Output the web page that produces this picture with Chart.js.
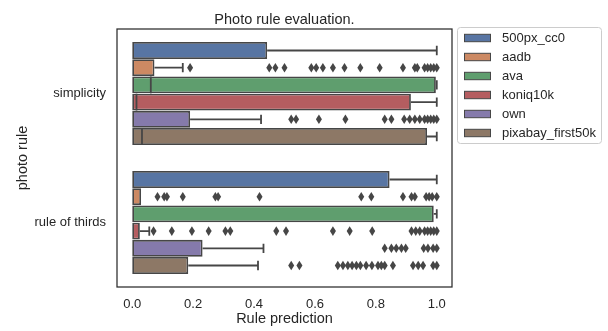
<!DOCTYPE html>
<html>
<head>
<meta charset="utf-8">
<script src="https://cdn.jsdelivr.net/npm/chart.js@4"></script>
<style>
  html, body { margin: 0; padding: 0; background: #ffffff; }
  canvas { display: block; }
</style>
</head>
<body>
<canvas id="c" width="608" height="331"></canvas>
<script>
// ---------------- DATA ----------------
const categories = ['simplicity', 'rule of thirds'];
const series = ['500px_cc0', 'aadb', 'ava', 'koniq10k', 'own', 'pixabay_first50k'];
const xTicks = [0.0, 0.2, 0.4, 0.6, 0.8, 1.0];

// per series: [simplicity, rule of thirds]
const q1 = [[0, 0], [0, 0], [0, 0], [0, 0], [0, 0], [0, 0]];
const median = [[0, 0], [0, 0], [0.061, 0], [0.014, 0], [0, 0], [0.032, 0]];
const q3 = [[0.443, 0.845], [0.073, 0.029], [0.997, 0.99], [0.915, 0.025], [0.19, 0.231], [0.968, 0.184]];
const whiskerLow = [[0, 0], [0, 0], [0, 0], [0, 0], [0, 0], [0, 0]];
const whiskerHigh = [[1.0, 1.0], [0.166, 0.029], [1.0, 1.0], [1.0, 0.056], [0.423, 0.431], [1.0, 0.413]];

const outliers500px = [[], []];
const outliersAadb = [
  [0.19, 0.45, 0.47, 0.50, 0.588, 0.604, 0.626, 0.659, 0.697, 0.749, 0.8125, 0.889, 0.928, 0.936, 0.96, 0.97, 0.98, 0.99, 1.0],
  [0.083, 0.105, 0.114, 0.166, 0.273, 0.282, 0.418, 0.752, 0.785, 0.889, 0.917, 0.928, 0.965, 0.975, 0.985, 1.0]
];
const outliersAva = [[], []];
const outliersKoniq = [
  [],
  [0.07, 0.13, 0.196, 0.251, 0.306, 0.322, 0.473, 0.505, 0.659, 0.714, 0.788, 0.917, 0.931, 0.944, 0.96, 0.97, 0.98, 0.99, 1.0]
];
const outliersOwn = [
  [0.522, 0.538, 0.613, 0.70, 0.829, 0.851, 0.893, 0.911, 0.928, 0.944, 0.96, 0.97, 0.98, 0.99, 1.0],
  [0.829, 0.851, 0.867, 0.884, 0.898, 0.957, 0.971, 0.988, 1.0]
];
const outliersPixabay = [
  [],
  [0.522, 0.549, 0.675, 0.692, 0.708, 0.722, 0.736, 0.749, 0.768, 0.787, 0.807, 0.818, 0.829, 0.856, 0.922, 0.939, 0.955, 0.988, 1.0]
];
const outliers = [outliers500px, outliersAadb, outliersAva, outliersKoniq, outliersOwn, outliersPixabay];

// ---------------- STYLE ----------------
const colors = ['#5875a3', '#cc8963', '#5f9e6e', '#b55d60', '#857aab', '#8d7866'];
const lineGray = '#464646';
const textColor = '#262626';
const FONT = "'Liberation Sans', Arial, sans-serif";

Chart.defaults.font.family = FONT;
Chart.defaults.color = textColor;

const boxPlugin = {
  id: 'boxExtras',
  afterDatasetsDraw(chart) {
    const ctx = chart.ctx;
    const xs = chart.scales.x;
    ctx.save();
    ctx.strokeStyle = lineGray;
    ctx.fillStyle = lineGray;
    ctx.lineWidth = 1.8;
    chart.data.datasets.forEach((ds, i) => {
      const meta = chart.getDatasetMeta(i);
      meta.data.forEach((bar, j) => {
        const y = bar.y;
        const h = bar.height;
        const capH = h * 0.55;
        const x1 = xs.getPixelForValue(q1[i][j]);
        const x3 = xs.getPixelForValue(q3[i][j]);
        // median (skip when it coincides with the box edge)
        const mx = xs.getPixelForValue(median[i][j]);
        if (Math.abs(mx - x1) > 1.5 && Math.abs(x3 - mx) > 1.5) {
          ctx.beginPath();
          ctx.moveTo(mx, y - h / 2);
          ctx.lineTo(mx, y + h / 2);
          ctx.stroke();
        }
        // upper whisker
        const wh = xs.getPixelForValue(whiskerHigh[i][j]);
        if (wh - x3 > 0.5) {
          ctx.beginPath();
          ctx.moveTo(x3, y);
          ctx.lineTo(wh, y);
          ctx.moveTo(wh, y - capH / 2);
          ctx.lineTo(wh, y + capH / 2);
          ctx.stroke();
        }
        // lower whisker
        const wl = xs.getPixelForValue(whiskerLow[i][j]);
        if (x1 - wl > 0.5) {
          ctx.beginPath();
          ctx.moveTo(x1, y);
          ctx.lineTo(wl, y);
          ctx.moveTo(wl, y - capH / 2);
          ctx.lineTo(wl, y + capH / 2);
          ctx.stroke();
        }
        // outliers (thin diamonds)
        outliers[i][j].forEach(v => {
          const px = xs.getPixelForValue(v);
          ctx.beginPath();
          ctx.moveTo(px, y - 4.8);
          ctx.lineTo(px + 3, y);
          ctx.lineTo(px, y + 4.8);
          ctx.lineTo(px - 3, y);
          ctx.closePath();
          ctx.fill();
        });
      });
    });
    ctx.restore();
  },
  afterDraw(chart) {
    const ctx = chart.ctx;
    const a = chart.chartArea;
    ctx.save();
    // frame
    ctx.strokeStyle = '#2b2b2b';
    ctx.lineWidth = 1.25;
    ctx.strokeRect(a.left, a.top, a.right - a.left, a.bottom - a.top);
    // title
    ctx.fillStyle = textColor;
    ctx.font = '14.5px ' + FONT;
    ctx.textAlign = 'center';
    ctx.textBaseline = 'alphabetic';
    ctx.fillText('Photo rule evaluation.', (a.left + a.right) / 2, 24);
    // legend
    const lx = 457.5, ly = 27.5, lw = 144, lh = 116;
    ctx.beginPath();
    const r = 3;
    ctx.moveTo(lx + r, ly);
    ctx.lineTo(lx + lw - r, ly);
    ctx.arcTo(lx + lw, ly, lx + lw, ly + r, r);
    ctx.lineTo(lx + lw, ly + lh - r);
    ctx.arcTo(lx + lw, ly + lh, lx + lw - r, ly + lh, r);
    ctx.lineTo(lx + r, ly + lh);
    ctx.arcTo(lx, ly + lh, lx, ly + lh - r, r);
    ctx.lineTo(lx, ly + r);
    ctx.arcTo(lx, ly, lx + r, ly, r);
    ctx.closePath();
    ctx.fillStyle = '#ffffff';
    ctx.fill();
    ctx.strokeStyle = '#cccccc';
    ctx.lineWidth = 1;
    ctx.stroke();
    ctx.font = '13px ' + FONT;
    ctx.textAlign = 'left';
    ctx.textBaseline = 'middle';
    chart.data.datasets.forEach((ds, i) => {
      const cy = 38 + i * 19;
      ctx.fillStyle = ds.backgroundColor;
      ctx.fillRect(464.5, cy - 3.7, 26, 7.4);
      ctx.strokeStyle = lineGray;
      ctx.lineWidth = 1;
      ctx.strokeRect(464.5, cy - 3.7, 26, 7.4);
      ctx.fillStyle = textColor;
      ctx.fillText(ds.label, 502, cy + 0.5);
    });
    ctx.restore();
  }
};

const datasets = series.map((name, i) => ({
  label: name,
  data: categories.map((c, j) => [q1[i][j], q3[i][j]]),
  backgroundColor: colors[i],
  borderColor: lineGray,
  borderWidth: 1.8,
  borderSkipped: false,
  categoryPercentage: 0.8,
  barPercentage: 0.98
}));

new Chart(document.getElementById('c'), {
  type: 'bar',
  data: { labels: categories, datasets },
  options: {
    indexAxis: 'y',
    responsive: false,
    animation: false,
    layout: { padding: { top: 29, right: 156, left: 0, bottom: 0 } },
    plugins: { legend: { display: false }, tooltip: { enabled: false }, title: { display: false } },
    scales: {
      x: {
        type: 'linear',
        min: -0.05,
        max: 1.05,
        afterBuildTicks(scale) { scale.ticks = xTicks.map(v => ({ value: v })); },
        afterFit(scale) { scale.height = 44; },
        grid: { display: false, drawTicks: false },
        border: { display: false },
        ticks: {
          font: { size: 13 },
          color: textColor,
          padding: 10,
          maxRotation: 0,
          callback: (v) => Number(v).toFixed(1)
        },
        title: { display: true, text: 'Rule prediction', font: { size: 14.5 }, color: textColor, padding: { top: 0, bottom: 3 } }
      },
      y: {
        type: 'category',
        afterFit(scale) { scale.width = 117; },
        grid: { display: false, drawTicks: false },
        border: { display: false },
        ticks: { font: { size: 13 }, color: textColor, padding: 11 },
        title: { display: true, text: 'photo rule', font: { size: 14.5 }, color: textColor, padding: { top: 14, bottom: 0 } }
      }
    }
  },
  plugins: [boxPlugin]
});
</script>
</body>
</html>
